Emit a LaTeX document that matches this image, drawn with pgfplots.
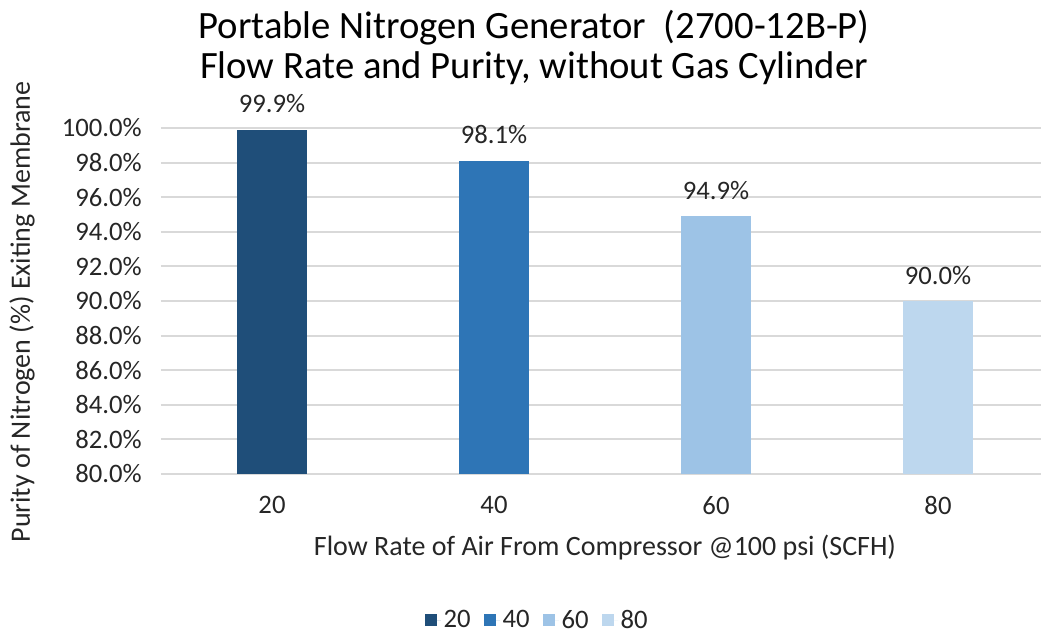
\documentclass[border=0pt]{standalone}
\usepackage{pgfplots}
\pgfplotsset{compat=1.18}
\usepackage{fontspec}
\setmainfont{Carlito}
\definecolor{c1}{HTML}{1F4E79}
\definecolor{c2}{HTML}{2E75B6}
\definecolor{c3}{HTML}{9DC3E6}
\definecolor{c4}{HTML}{BDD7EE}
\definecolor{gridc}{HTML}{D9D9D9}
\definecolor{txt}{HTML}{262626}
\begin{document}
\begin{tikzpicture}[x=0.75pt,y=0.75pt]
\begin{axis}[
  at={(0,0)}, anchor=south west,
  scale only axis,
  width=660pt, height=259.5pt,
  xmin=-0.5, xmax=3.464,
  ymin=80, ymax=100,
  ytick={80,82,...,100},
  yticklabel={\pgfmathprintnumber[fixed,fixed zerofill,precision=1]{\tick}\%},
  /pgf/number format/assume math mode=true,
  xtick={0,1,2,3},
  xticklabels={20,40,60,80},
  axis line style={draw=none},
  major tick length=0pt,
  xtick style={draw=none}, ytick style={draw=none},
  xmajorgrids=false,
  ymajorgrids=true,
  y grid style={gridc, line width=1.5pt},
  ticklabel style={font=\fontsize{20}{22}\selectfont, text=txt},
  yticklabel style={xshift=-11pt},
  xticklabel style={yshift=-13pt},
  ybar, bar width=52.5pt, bar shift=0pt,
  nodes near coords={\pgfmathprintnumber[fixed,fixed zerofill,precision=1]{\pgfplotspointmeta}\%},
  nodes near coords style={font=\fontsize{20}{22}\selectfont, text=txt, anchor=south, yshift=9pt},
  legend style={at={(0.428,-0.422)}, anchor=center, draw=none, legend columns=-1,
    font=\fontsize{20}{22}\selectfont, text=txt,
    /tikz/every even column/.append style={column sep=8pt},
    /tikz/every odd column/.append style={column sep=0pt}},
  legend image code/.code={\fill[#1] (0pt,-4.5pt) rectangle (9pt,4.5pt); \path (0pt,0pt) -- (12pt,0pt);},
  clip=false,
]
\addplot[fill=c1, draw=none] coordinates {(0,99.9)};
\addplot[fill=c2, draw=none] coordinates {(1,98.1)};
\addplot[fill=c3, draw=none] coordinates {(2,94.9)};
\addplot[fill=c4, draw=none] coordinates {(3,90.0)};
\legend{20,40,60,80}
\end{axis}
\node[anchor=base, font=\fontsize{29}{32}\selectfont, text=black] at (373,435) {Portable Nitrogen Generator\ \ (2700-12B-P)};
\node[anchor=base, font=\fontsize{29}{32}\selectfont, text=black] at (373,395) {Flow Rate and Purity, without Gas Cylinder};
\node[font=\fontsize{21}{23}\selectfont, text=txt] at (444,-74) {Flow Rate of Air From Compressor @100 psi (SCFH)};
\node[rotate=90, font=\fontsize{21}{23}\selectfont, text=txt] at (-139,162) {Purity of Nitrogen (\%) Exiting Membrane};
\pgfresetboundingbox
\useasboundingbox (-161,-157) rectangle (880,474);
\end{tikzpicture}
\end{document}
